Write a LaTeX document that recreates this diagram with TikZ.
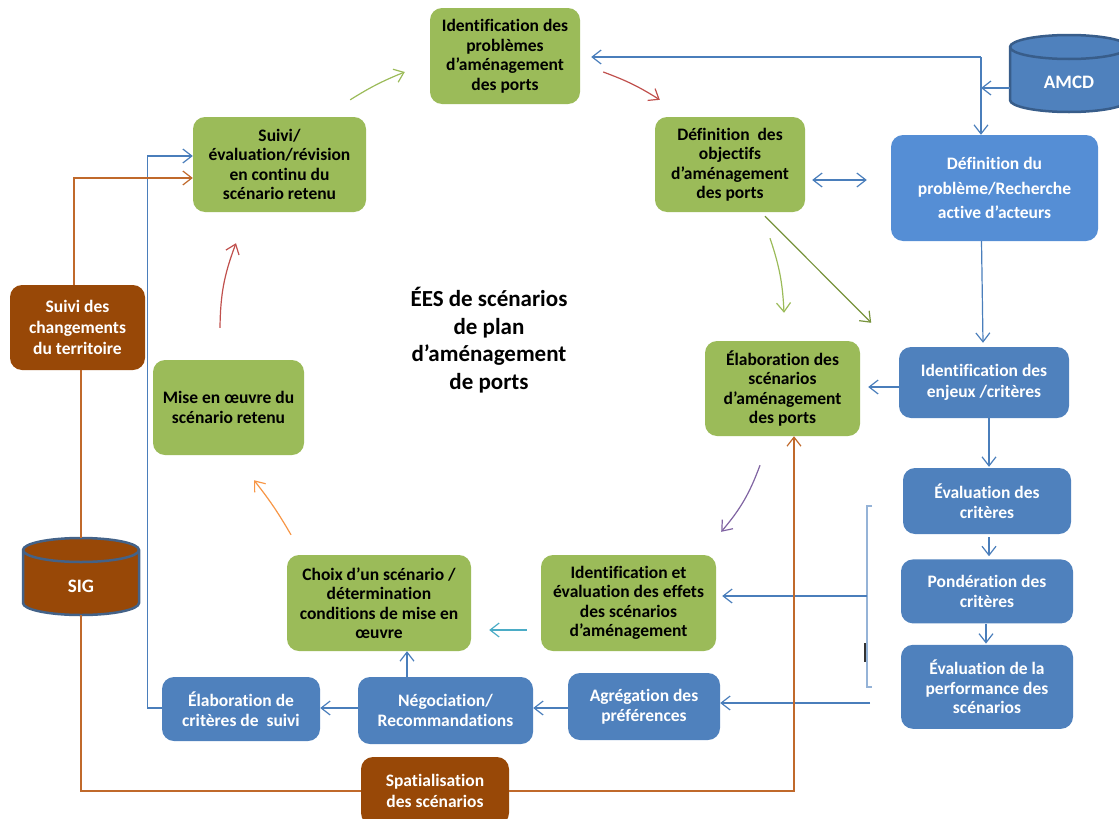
\documentclass[tikz,border=0pt]{standalone}
\usepackage{fontspec}
\setmainfont{Carlito}[Ligatures=NoCommon]
\usetikzlibrary{positioning, arrows.meta, backgrounds}
\usepackage{xcolor}
\definecolor{vert}{HTML}{9BBB59}
\definecolor{vertfonce}{HTML}{77933C}
\definecolor{bleu}{HTML}{4F81BD}
\definecolor{bleuclair}{HTML}{558ED5}
\definecolor{bleubord}{HTML}{385D8A}
\definecolor{trait}{HTML}{4A7EBB}
\definecolor{crochet}{HTML}{95B3D7}
\definecolor{brun}{HTML}{984807}
\definecolor{brunligne}{HTML}{C0692B}
\definecolor{rouge}{HTML}{C0504D}
\definecolor{orange}{HTML}{F79646}
\definecolor{violet}{HTML}{8064A2}
\definecolor{cyan}{HTML}{4BACC6}

\begin{document}
\begin{tikzpicture}[
        x=1pt, y=-1pt,
        font=\bfseries\fontsize{17.5}{19.5}\selectfont,
        box/.style={rounded corners=12pt, align=center, inner sep=3pt},
        greenbox/.style={box, fill=vert, text=black},
        bluebox/.style={box, fill=bleu, text=white},
        brownbox/.style={box, fill=brun, text=white,
                         font=\bfseries\fontsize{17.5}{21}\selectfont},
        dbase/.style={minimum width=118pt, minimum height=77pt, outer sep=0pt,
                      text=white, font=\bfseries\fontsize{19}{22}\selectfont},
        dbord/.style={line width=2.5pt, draw=bleubord},
        arrow/.style={-{Straight Barb[length=9pt, width=14pt]}, line width=1.2pt},
        barrow/.style={arrow, draw=trait},
        darrow/.style={barrow, {Straight Barb[length=9pt, width=14pt]}-{Straight Barb[length=9pt, width=14pt]}},
        brline/.style={draw=brunligne, line width=1.2pt},
        brarrow/.style={arrow, draw=brunligne},
    ]
        \useasboundingbox (0,0) rectangle (1119,819);
        \clip (0,0) rectangle (1119,819);

        % cycle vert
        \node[greenbox, minimum width=150pt, minimum height=96pt] (ident) at (505,56)
            {Identification des\\problèmes\\d’aménagement\\des ports};
        \node[greenbox, minimum width=150pt, minimum height=95pt] (defobj) at (730,164.5)
            {Définition~ des\\objectifs\\d’aménagement\\des ports};
        \node[greenbox, minimum width=173pt, minimum height=95pt] (suivi) at (279.5,164.5)
            {Suivi/\\évaluation/révision\\en continu du\\scénario retenu};
        \node[greenbox, minimum width=155pt, minimum height=95pt] (elab) at (782.5,388.5)
            {Élaboration des\\scénarios\\d’aménagement\\des ports};
        \node[greenbox, minimum width=151pt, minimum height=95pt] (mise) at (228.5,407.5)
            {Mise en œuvre du\\scénario retenu};
        \node[greenbox, minimum width=184pt, minimum height=96pt] (choix) at (379,603)
            {Choix d’un scénario /\\détermination\\conditions de mise en\\œuvre};
        \node[greenbox, minimum width=175pt, minimum height=96pt] (identeff) at (628.5,603)
            {Identification et\\évaluation des effets\\des scénarios\\d’aménagement};

        \node[font=\bfseries\fontsize{23}{27.5}\selectfont, align=center] (titre) at (489,340)
            {ÉES de scénarios\\de plan\\d’aménagement\\de ports};

        % volet AMCD
        \node[bluebox, fill=bleuclair, minimum width=207pt, minimum height=106pt,
              font=\bfseries\fontsize{17.5}{24.5}\selectfont] (defprob) at (994.5,188)
            {Définition du\\problème/Recherche\\active d’acteurs};
        \node[bluebox, minimum width=170pt, minimum height=71pt,
              font=\bfseries\fontsize{17.5}{21}\selectfont] (enjeux) at (984,382.5)
            {Identification des\\enjeux /critères};
        \node[bluebox, minimum width=168pt, minimum height=66pt] (evalcrit) at (987,501)
            {Évaluation des\\critères};
        \node[bluebox, minimum width=172pt, minimum height=64pt, below=25pt of evalcrit] (pond)
            {Pondération des\\critères};
        \node[bluebox, minimum width=172pt, minimum height=84pt, below=21pt of pond] (perf)
            {Évaluation de la\\performance des\\scénarios};
        \node[bluebox, minimum width=152pt, minimum height=67pt] (agreg) at (644,706.5)
            {Agrégation des\\préférences};
        \node[bluebox, minimum width=175pt, minimum height=67pt] (nego) at (445.5,710.5)
            {Négociation/\\Recommandations};
        \node[bluebox, minimum width=158pt, minimum height=64pt] (elabcrit) at (241,709)
            {Élaboration de\\critères de~ suivi};

        % volet SIG
        \node[brownbox, minimum width=135pt, minimum height=85pt] (suivichg) at (77.5,327.5)
            {Suivi des\\changements\\du territoire};
        \node[brownbox, minimum width=148pt, minimum height=68pt] (spatial) at (435,791)
            {Spatialisation\\des scénarios};

        % bases de donnees (cylindres dessines sous le texte)
        \node[dbase] (amcd) at (1069,73.5) {\raisebox{-9pt}[\height][\depth]{AMCD}};
        \node[dbase, minimum width=116pt] (sig) at (81,576.5) {\raisebox{-10pt}[\height][\depth]{SIG}};
        \begin{scope}[on background layer]
            \draw[dbord, fill=bleu] ([yshift=-12pt]amcd.north west) -- ([yshift=12pt]amcd.south west)
                arc[start angle=180, end angle=360, x radius=59pt, y radius=12pt]
                -- ([yshift=-12pt]amcd.north east)
                arc[start angle=0, end angle=180, x radius=59pt, y radius=12pt] -- cycle
                ([yshift=-12pt]amcd.north west)
                arc[start angle=180, end angle=360, x radius=59pt, y radius=12pt];
            \draw[dbord, draw=bleubord!85!gray, fill=brun] ([yshift=-12pt]sig.north west) -- ([yshift=12pt]sig.south west)
                arc[start angle=180, end angle=360, x radius=58pt, y radius=12pt]
                -- ([yshift=-12pt]sig.north east)
                arc[start angle=0, end angle=180, x radius=58pt, y radius=12pt] -- cycle
                ([yshift=-12pt]sig.north west)
                arc[start angle=180, end angle=360, x radius=58pt, y radius=12pt];
        \end{scope}

        % fleches du cycle
        \draw[arrow, vert] ([shift={(-16,-17)}]suivi.north east) to[bend left=5] ([shift={(-25,16)}]ident.west);
        \draw[arrow, rouge] ([shift={(23,16)}]ident.east) to[bend left=6] ([shift={(5,-17)}]defobj.north west);
        \draw[arrow, vert] ([shift={(40,26)}]defobj.south) to[bend left=8] ([shift={(1.5,-28)}]elab.north);
        \draw[arrow, vertfonce] ([shift={(35,4)}]defobj.south) -- ([shift={(11,-18)}]elab.north east);
        \draw[arrow, violet] ([shift={(-22.5,29)}]elab.south) to[bend left=10] ([shift={(5,-23)}]identeff.north east);
        \draw[arrow, cyan] ([shift={(-14,27)}]identeff.west) -- ([shift={(18,27)}]choix.east);
        \draw[arrow, orange] ([shift={(-88,-20)}]choix.north) to[bend right=4] ([shift={(25.5,25)}]mise.south);
        \draw[arrow, rouge] ([shift={(-8.5,-32)}]mise.north) to[bend left=10] ([shift={(-43.5,31)}]suivi.south);

        % liens AMCD
        \coordinate (jn) at (981,57);
        \coordinate (ja) at (981,88);
        \draw[barrow] (jn) -- ([shift={(11,1)}]ident.east);
        \draw[barrow] (jn) -- (jn |- defprob.north);
        \draw[barrow] (amcd.west |- ja) -- (ja);
        \draw[darrow] ([shift={(7,15.5)}]defobj.east) -- ([shift={(-24,-8)}]defprob.west);
        \draw[barrow] ([shift={(-13,0)}]defprob.south) -- ([shift={(-1,-4)}]enjeux.north);
        \draw[barrow] ([shift={(0,4.5)}]enjeux.west) -- ([shift={(8,-1.5)}]elab.east);
        \draw[barrow] ([shift={(5,0)}]enjeux.south) -- ([shift={(2,-1)}]evalcrit.north);
        \draw[barrow] ([shift={(2,3)}]evalcrit.south) -- ([shift={(2,-3)}]pond.north);
        \draw[barrow] ([shift={(-1,0)}]pond.south) -- ([shift={(-1,-1)}]perf.north);

        \coordinate (brt) at (867,506);
        \coordinate (brb) at (867,687);
        \coordinate (brm) at (867,596);
        \coordinate (pfa) at (870,703);
        \draw[crochet, line width=1.2pt] ([shift={(5,0)}]brt) -- (brt) -- (brb) -- ([shift={(5,0)}]brb);
        \draw[black!80, line width=2pt] (865,643) -- (865,662);
        \draw[barrow] (brm) -- ([shift={(6,-7)}]identeff.east);
        \draw[barrow] (pfa) -- ([shift={(0,-3.5)}]agreg.east);
        \draw[barrow] ([shift={(0,1.5)}]agreg.west) -- ([shift={(0,-2.5)}]nego.east);
        \draw[barrow] ([shift={(-38.5,0)}]nego.north) -- ([shift={(28,0)}]choix.south);
        \draw[barrow] ([shift={(0,-2.5)}]nego.west) -- ([shift={(0,-1)}]elabcrit.east);
        \draw[barrow] ([shift={(0,-1)}]elabcrit.west) -- ++(-14,0) |- ([shift={(0,-8.5)}]suivi.west);

        % liens SIG
        \draw[brarrow] ([shift={(-3.5,0)}]suivichg.north) |- ([shift={(0,13.5)}]suivi.west);
        \draw[brline] (suivichg.south -| sig.north) -- (sig.north);
        \draw[brline] (sig.south) |- (spatial.west);
        \draw[brarrow] (spatial.east) -| ([shift={(11.5,0)}]elab.south);
    \end{tikzpicture}
\end{document}
